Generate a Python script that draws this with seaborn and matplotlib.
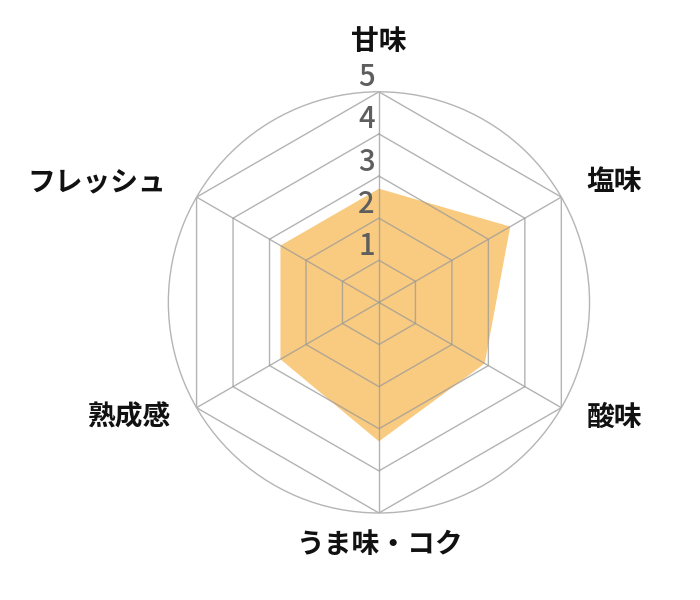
import numpy as np
import matplotlib
matplotlib.use("Agg")
import matplotlib.pyplot as plt
import seaborn as sns

# ===================== DATA =====================
categories = ["甘味", "塩味", "酸味", "うま味・コク", "熟成感", "フレッシュ"]
values = [2.7, 3.6, 2.9, 3.3, 2.7, 2.7]
levels = [1, 2, 3, 4, 5]
tick_labels = ["1", "2", "3", "4", "5"]

sns.set_style("white")
plt.rcParams["font.family"] = ["Noto Sans CJK JP", "DejaVu Sans"]

fill_color = "#F9CB80"
grid_color = "#9a9a9a"

n = len(categories)
angles = np.linspace(0, 2 * np.pi, n, endpoint=False)
closed = np.append(angles, angles[0])

fig = plt.figure(figsize=(7, 6), dpi=100)
ax = fig.add_axes([0.2405, 0.145, 0.6017, 0.702], projection="polar")
ax.set_theta_zero_location("N")
ax.set_theta_direction(-1)
ax.set_ylim(0, 5)
ax.grid(False)
ax.set_xticks([])
ax.set_yticks([])
ax.spines["polar"].set_color("#b5b5b5")
ax.spines["polar"].set_linewidth(1.0)

# ===================== FILL =====================
ax.fill(closed, np.append(values, values[0]), color=fill_color, lw=0, zorder=1)

# ===================== HEXAGON GRID =====================
for lv in levels:
    ax.plot(closed, [lv] * (n + 1), color=grid_color, lw=1.0, alpha=0.75, zorder=2)
for a in angles:
    ax.plot([a, a], [0, levels[-1]], color=grid_color, lw=1.0, alpha=0.75, zorder=2)

# ===================== TICK LABELS =====================
for lv, lab in zip(levels, tick_labels):
    ax.annotate(lab, xy=(0, lv), xytext=(-4, 14), textcoords="offset pixels",
                ha="right", va="center", fontsize=21, fontweight="medium",
                color="#5e5e5e", zorder=3)

# ===================== CATEGORY LABELS =====================
offsets = [(0, 50), (25, 15), (25, -10), (0, -32), (-26, -10), (-30, 15)]
aligns = ["center", "left", "left", "center", "right", "right"]
for a, cat, off, ha in zip(angles, categories, offsets, aligns):
    ax.annotate(cat, xy=(a, 5), xytext=off, textcoords="offset pixels",
                ha=ha, va="center", fontsize=20, fontweight="bold", color="#111111")

fig.savefig("out.png", dpi=100)
